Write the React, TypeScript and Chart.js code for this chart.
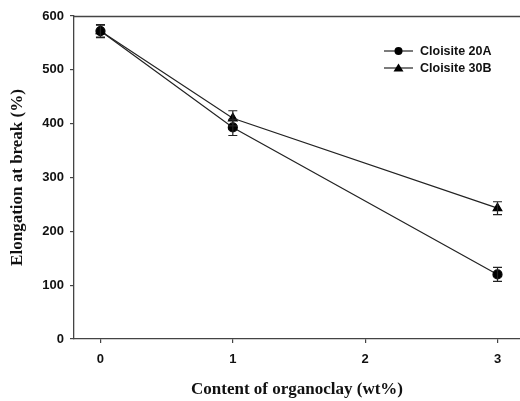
import React, { useEffect, useRef } from "react";
import { Chart, registerables } from "chart.js";

Chart.register(...registerables);

const contents = [0, 1, 3];
const xTickValues = [0, 1, 2, 3];
const yTickValues = [0, 100, 200, 300, 400, 500, 600];
const seriesNames = ["Cloisite 20A", "Cloisite 30B"];
const cloisite20A = [572, 393, 120];
const cloisite20AErr = [12, 15, 13];
const cloisite30B = [572, 410, 243];
const cloisite30BErr = [11, 14, 12];

const AXIS = "#444";
const LINE = "#222";

const errorBarPlugin = {
  id: "errorBars",
  afterDatasetsDraw(chart: any) {
    const ctx = chart.ctx;
    const ys = chart.scales.y;
    chart.data.datasets.forEach((ds: any, di: number) => {
      const meta = chart.getDatasetMeta(di);
      const errs: number[] = ds.errors || [];
      meta.data.forEach((pt: any, i: number) => {
        const v = ds.data[i].y;
        const e = errs[i] || 0;
        const yTop = ys.getPixelForValue(v + e);
        const yBot = ys.getPixelForValue(v - e);
        const x = pt.x;
        ctx.save();
        ctx.strokeStyle = LINE;
        ctx.lineWidth = 1.2;
        ctx.beginPath();
        ctx.moveTo(x, yTop);
        ctx.lineTo(x, yBot);
        ctx.moveTo(x - 4.5, yTop);
        ctx.lineTo(x + 4.5, yTop);
        ctx.moveTo(x - 4.5, yBot);
        ctx.lineTo(x + 4.5, yBot);
        ctx.stroke();
        ctx.restore();
      });
    });
  },
};

const frameLegendPlugin = {
  id: "frameLegend",
  afterDraw(chart: any) {
    const ctx = chart.ctx;
    const a = chart.chartArea;
    ctx.save();
    // top frame line
    ctx.strokeStyle = AXIS;
    ctx.lineWidth = 1.3;
    ctx.beginPath();
    ctx.moveTo(a.left, a.top + 0.5);
    ctx.lineTo(a.right, a.top + 0.5);
    ctx.stroke();
    // legend
    const lx0 = a.right - 136;
    const lx1 = a.right - 107;
    const rows = [a.top + 35, a.top + 52];
    chart.data.datasets.forEach((ds: any, i: number) => {
      const y = rows[i];
      ctx.strokeStyle = LINE;
      ctx.lineWidth = 1.2;
      ctx.beginPath();
      ctx.moveTo(lx0, y);
      ctx.lineTo(lx1, y);
      ctx.stroke();
      const mx = (lx0 + lx1) / 2;
      ctx.fillStyle = "#000";
      ctx.beginPath();
      if (i === 0) {
        ctx.arc(mx, y, 4, 0, Math.PI * 2);
      } else {
        ctx.moveTo(mx, y - 4.5);
        ctx.lineTo(mx + 5, y + 3.5);
        ctx.lineTo(mx - 5, y + 3.5);
        ctx.closePath();
      }
      ctx.fill();
      ctx.fillStyle = "#111";
      ctx.font = "bold 12.5px 'Liberation Sans', Arial, sans-serif";
      ctx.textAlign = "left";
      ctx.textBaseline = "middle";
      ctx.fillText(ds.label, lx1 + 7, y + 1);
    });
    ctx.restore();
  },
};

export default function App() {
  const ref = useRef<HTMLCanvasElement>(null);
  useEffect(() => {
    if (!ref.current) return;
    const mk = (vals: number[]) => contents.map((x, i) => ({ x, y: vals[i] }));
    const tickFont = { family: "'Liberation Sans', Arial, sans-serif", size: 13, weight: "bold" as const };
    const titleFont = { family: "'Liberation Serif', 'Times New Roman', serif", size: 17, weight: "bold" as const };
    const chart = new Chart(ref.current, {
      type: "line",
      data: {
        datasets: [
          {
            label: seriesNames[0],
            data: mk(cloisite20A),
            errors: cloisite20AErr,
            borderColor: LINE,
            borderWidth: 1.2,
            backgroundColor: "#000",
            pointBackgroundColor: "#000",
            pointBorderColor: "#000",
            pointStyle: "circle",
            pointRadius: 4.5,
          } as any,
          {
            label: seriesNames[1],
            data: mk(cloisite30B),
            errors: cloisite30BErr,
            borderColor: LINE,
            borderWidth: 1.2,
            backgroundColor: "#000",
            pointBackgroundColor: "#000",
            pointBorderColor: "#000",
            pointStyle: "triangle",
            pointRadius: 5,
          } as any,
        ],
      },
      options: {
        responsive: false,
        animation: false,
        devicePixelRatio: 1,
        layout: { autoPadding: false, padding: { top: 16, right: 0, left: 0, bottom: 0 } },
        plugins: { legend: { display: false }, tooltip: { enabled: false } },
        scales: {
          x: {
            type: "linear",
            min: -0.2,
            max: 3.17,
            afterBuildTicks: (s: any) => {
              s.ticks = xTickValues.map((v) => ({ value: v }));
            },
            afterFit: (s: any) => {
              s.height = 62;
              s.paddingLeft = 0;
              s.paddingRight = 0;
            },
            grid: { drawOnChartArea: false, drawTicks: true, tickLength: 4, color: AXIS, lineWidth: 1.2 },
            border: { display: true, color: AXIS, width: 1.3 },
            ticks: { color: "#111", font: tickFont, padding: 9, maxRotation: 0 },
            title: {
              display: true,
              text: "Content of organoclay (wt%)",
              color: "#111",
              font: titleFont,
              padding: { top: 0, bottom: 1 },
            },
          },
          y: {
            type: "linear",
            min: 0,
            max: 600,
            afterBuildTicks: (s: any) => {
              s.ticks = yTickValues.map((v) => ({ value: v }));
            },
            afterFit: (s: any) => {
              s.width = 74;
              s.paddingTop = 0;
              s.paddingBottom = 0;
            },
            grid: { drawOnChartArea: false, drawTicks: true, tickLength: 4, color: AXIS, lineWidth: 1.2 },
            border: { display: true, color: AXIS, width: 1.3 },
            ticks: { color: "#111", font: tickFont, padding: 6 },
            title: {
              display: true,
              text: "Elongation at break (%)",
              color: "#111",
              font: titleFont,
              padding: { top: 7, bottom: 0 },
            },
          },
        },
      } as any,
      plugins: [errorBarPlugin, frameLegendPlugin],
    });
    return () => chart.destroy();
  }, []);
  return (
    <div style={{ position: "absolute", left: 0, top: 0, width: 520, height: 401, background: "#fff" }}>
      <canvas ref={ref} width={520} height={401} />
    </div>
  );
}
